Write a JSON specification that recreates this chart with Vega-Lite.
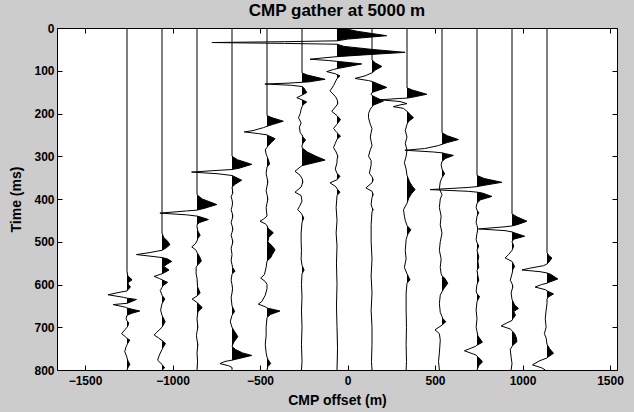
{
"$schema": "https://vega.github.io/schema/vega-lite/v6.json",
"width": 560, "height": 342,
"autosize": "none",
"padding": {"left": 57, "top": 28, "right": 17, "bottom": 42},
"background": "#cccccc",
"view": {"fill": "white", "stroke": "black", "strokeWidth": 1},
"title": {"text": "CMP gather at 5000 m", "font": "Liberation Sans", "fontSize": 17, "fontWeight": "bold", "color": "black", "anchor": "middle", "dy": 2},
"config": {
  "font": "Liberation Sans",
  "axis": {"zindex": 1, "domain": false, "ticks": false, "tickSize": 0, "grid": true, "gridColor": "black", "gridWidth": 1, "gridOpacity": 1, "gridCap": "butt", "labelFont": "Liberation Sans", "labelFontSize": 12, "labelFontWeight": "bold", "labelColor": "black", "labelFlush": false, "labelOverlap": false, "titleFont": "Liberation Sans", "titleFontSize": 14, "titleFontWeight": "bold", "titleColor": "black", "format": "d"}
},
"data": {"name": "w"},
"datasets": {"w": [
{"tr":-1260,"t":0,"x":-1260},{"tr":-1260,"t":570,"x":-1260},{"tr":-1260,"t":580,"x":-1255},{"tr":-1260,"t":589,"x":-1231},{"tr":-1260,"t":596,"x":-1255},{"tr":-1260,"t":601,"x":-1250},{"tr":-1260,"t":606,"x":-1240},{"tr":-1260,"t":612,"x":-1255},{"tr":-1260,"t":615,"x":-1260},{"tr":-1260,"t":618,"x":-1300},{"tr":-1260,"t":624,"x":-1368},{"tr":-1260,"t":630,"x":-1280},{"tr":-1260,"t":632,"x":-1260},{"tr":-1260,"t":635,"x":-1206},{"tr":-1260,"t":641,"x":-1240},{"tr":-1260,"t":644,"x":-1260},{"tr":-1260,"t":647,"x":-1339},{"tr":-1260,"t":653,"x":-1270},{"tr":-1260,"t":655,"x":-1260},{"tr":-1260,"t":658,"x":-1230},{"tr":-1260,"t":662,"x":-1187},{"tr":-1260,"t":667,"x":-1230},{"tr":-1260,"t":672,"x":-1260},{"tr":-1260,"t":680,"x":-1265},{"tr":-1260,"t":685,"x":-1260},{"tr":-1260,"t":690,"x":-1250},{"tr":-1260,"t":697,"x":-1255},{"tr":-1260,"t":700,"x":-1260},{"tr":-1260,"t":705,"x":-1270},{"tr":-1260,"t":715,"x":-1291},{"tr":-1260,"t":722,"x":-1270},{"tr":-1260,"t":726,"x":-1260},{"tr":-1260,"t":730,"x":-1244},{"tr":-1260,"t":737,"x":-1255},{"tr":-1260,"t":741,"x":-1260},{"tr":-1260,"t":745,"x":-1265},{"tr":-1260,"t":757,"x":-1273},{"tr":-1260,"t":767,"x":-1263},{"tr":-1260,"t":772,"x":-1260},{"tr":-1260,"t":778,"x":-1255},{"tr":-1260,"t":787,"x":-1244},{"tr":-1260,"t":795,"x":-1255},{"tr":-1260,"t":800,"x":-1260},
{"tr":-1060,"t":0,"x":-1060},{"tr":-1060,"t":480,"x":-1060},{"tr":-1060,"t":490,"x":-1050},{"tr":-1060,"t":500,"x":-1025},{"tr":-1060,"t":507,"x":-1015},{"tr":-1060,"t":514,"x":-1035},{"tr":-1060,"t":520,"x":-1060},{"tr":-1060,"t":526,"x":-1140},{"tr":-1060,"t":530,"x":-1206},{"tr":-1060,"t":535,"x":-1100},{"tr":-1060,"t":537,"x":-1060},{"tr":-1060,"t":540,"x":-1030},{"tr":-1060,"t":546,"x":-1005},{"tr":-1060,"t":552,"x":-1030},{"tr":-1060,"t":558,"x":-1050},{"tr":-1060,"t":566,"x":-1020},{"tr":-1060,"t":572,"x":-1045},{"tr":-1060,"t":575,"x":-1060},{"tr":-1060,"t":581,"x":-1105},{"tr":-1060,"t":586,"x":-1075},{"tr":-1060,"t":589,"x":-1060},{"tr":-1060,"t":595,"x":-1028},{"tr":-1060,"t":603,"x":-1055},{"tr":-1060,"t":607,"x":-1060},{"tr":-1060,"t":614,"x":-1070},{"tr":-1060,"t":625,"x":-1060},{"tr":-1060,"t":634,"x":-1044},{"tr":-1060,"t":645,"x":-1060},{"tr":-1060,"t":660,"x":-1068},{"tr":-1060,"t":672,"x":-1060},{"tr":-1060,"t":687,"x":-1042},{"tr":-1060,"t":700,"x":-1060},{"tr":-1060,"t":712,"x":-1090},{"tr":-1060,"t":718,"x":-1105},{"tr":-1060,"t":725,"x":-1080},{"tr":-1060,"t":731,"x":-1060},{"tr":-1060,"t":738,"x":-1040},{"tr":-1060,"t":748,"x":-1055},{"tr":-1060,"t":752,"x":-1060},{"tr":-1060,"t":765,"x":-1075},{"tr":-1060,"t":777,"x":-1085},{"tr":-1060,"t":787,"x":-1060},{"tr":-1060,"t":795,"x":-1045},{"tr":-1060,"t":800,"x":-1060},
{"tr":-860,"t":0,"x":-860},{"tr":-860,"t":390,"x":-860},{"tr":-860,"t":400,"x":-830},{"tr":-860,"t":413,"x":-747},{"tr":-860,"t":422,"x":-820},{"tr":-860,"t":426,"x":-860},{"tr":-860,"t":428,"x":-920},{"tr":-860,"t":433,"x":-1072},{"tr":-860,"t":437,"x":-920},{"tr":-860,"t":440,"x":-860},{"tr":-860,"t":442,"x":-840},{"tr":-860,"t":448,"x":-795},{"tr":-860,"t":455,"x":-845},{"tr":-860,"t":460,"x":-860},{"tr":-860,"t":465,"x":-860},{"tr":-860,"t":475,"x":-855},{"tr":-860,"t":485,"x":-842},{"tr":-860,"t":492,"x":-855},{"tr":-860,"t":498,"x":-860},{"tr":-860,"t":505,"x":-870},{"tr":-860,"t":512,"x":-890},{"tr":-860,"t":520,"x":-865},{"tr":-860,"t":525,"x":-860},{"tr":-860,"t":535,"x":-845},{"tr":-860,"t":545,"x":-835},{"tr":-860,"t":552,"x":-850},{"tr":-860,"t":556,"x":-860},{"tr":-860,"t":560,"x":-865},{"tr":-860,"t":575,"x":-865},{"tr":-860,"t":585,"x":-860},{"tr":-860,"t":605,"x":-857},{"tr":-860,"t":620,"x":-842},{"tr":-860,"t":627,"x":-860},{"tr":-860,"t":634,"x":-888},{"tr":-860,"t":642,"x":-860},{"tr":-860,"t":654,"x":-830},{"tr":-860,"t":664,"x":-855},{"tr":-860,"t":680,"x":-860},{"tr":-860,"t":700,"x":-855},{"tr":-860,"t":710,"x":-860},{"tr":-860,"t":720,"x":-863},{"tr":-860,"t":730,"x":-860},{"tr":-860,"t":740,"x":-855},{"tr":-860,"t":760,"x":-860},{"tr":-860,"t":780,"x":-857},{"tr":-860,"t":800,"x":-860},
{"tr":-660,"t":0,"x":-660},{"tr":-660,"t":300,"x":-660},{"tr":-660,"t":308,"x":-630},{"tr":-660,"t":319,"x":-547},{"tr":-660,"t":328,"x":-620},{"tr":-660,"t":331,"x":-660},{"tr":-660,"t":333,"x":-740},{"tr":-660,"t":337,"x":-891},{"tr":-660,"t":341,"x":-740},{"tr":-660,"t":345,"x":-660},{"tr":-660,"t":356,"x":-605},{"tr":-660,"t":365,"x":-640},{"tr":-660,"t":372,"x":-660},{"tr":-660,"t":385,"x":-655},{"tr":-660,"t":390,"x":-660},{"tr":-660,"t":395,"x":-665},{"tr":-660,"t":402,"x":-660},{"tr":-660,"t":410,"x":-657},{"tr":-660,"t":418,"x":-660},{"tr":-660,"t":425,"x":-665},{"tr":-660,"t":432,"x":-660},{"tr":-660,"t":440,"x":-655},{"tr":-660,"t":448,"x":-660},{"tr":-660,"t":455,"x":-665},{"tr":-660,"t":462,"x":-660},{"tr":-660,"t":470,"x":-655},{"tr":-660,"t":478,"x":-660},{"tr":-660,"t":485,"x":-665},{"tr":-660,"t":492,"x":-660},{"tr":-660,"t":500,"x":-655},{"tr":-660,"t":508,"x":-660},{"tr":-660,"t":515,"x":-665},{"tr":-660,"t":530,"x":-660},{"tr":-660,"t":545,"x":-665},{"tr":-660,"t":553,"x":-660},{"tr":-660,"t":560,"x":-657},{"tr":-660,"t":569,"x":-643},{"tr":-660,"t":576,"x":-660},{"tr":-660,"t":590,"x":-665},{"tr":-660,"t":600,"x":-660},{"tr":-660,"t":610,"x":-657},{"tr":-660,"t":620,"x":-660},{"tr":-660,"t":630,"x":-665},{"tr":-660,"t":650,"x":-660},{"tr":-660,"t":663,"x":-645},{"tr":-660,"t":672,"x":-660},{"tr":-660,"t":687,"x":-670},{"tr":-660,"t":700,"x":-660},{"tr":-660,"t":710,"x":-645},{"tr":-660,"t":722,"x":-627},{"tr":-660,"t":735,"x":-650},{"tr":-660,"t":745,"x":-660},{"tr":-660,"t":752,"x":-640},{"tr":-660,"t":760,"x":-600},{"tr":-660,"t":766,"x":-547},{"tr":-660,"t":774,"x":-630},{"tr":-660,"t":777,"x":-660},{"tr":-660,"t":780,"x":-700},{"tr":-660,"t":785,"x":-729},{"tr":-660,"t":790,"x":-680},{"tr":-660,"t":794,"x":-660},{"tr":-660,"t":800,"x":-660},
{"tr":-460,"t":0,"x":-460},{"tr":-460,"t":205,"x":-460},{"tr":-460,"t":210,"x":-430},{"tr":-460,"t":218,"x":-367},{"tr":-460,"t":226,"x":-430},{"tr":-460,"t":230,"x":-460},{"tr":-460,"t":233,"x":-480},{"tr":-460,"t":240,"x":-540},{"tr":-460,"t":243,"x":-590},{"tr":-460,"t":247,"x":-510},{"tr":-460,"t":250,"x":-460},{"tr":-460,"t":252,"x":-450},{"tr":-460,"t":259,"x":-414},{"tr":-460,"t":268,"x":-435},{"tr":-460,"t":276,"x":-455},{"tr":-460,"t":279,"x":-460},{"tr":-460,"t":285,"x":-470},{"tr":-460,"t":295,"x":-465},{"tr":-460,"t":300,"x":-460},{"tr":-460,"t":305,"x":-455},{"tr":-460,"t":318,"x":-445},{"tr":-460,"t":325,"x":-460},{"tr":-460,"t":340,"x":-465},{"tr":-460,"t":350,"x":-460},{"tr":-460,"t":360,"x":-455},{"tr":-460,"t":370,"x":-460},{"tr":-460,"t":380,"x":-465},{"tr":-460,"t":390,"x":-460},{"tr":-460,"t":400,"x":-455},{"tr":-460,"t":410,"x":-460},{"tr":-460,"t":420,"x":-465},{"tr":-460,"t":440,"x":-460},{"tr":-460,"t":447,"x":-480},{"tr":-460,"t":452,"x":-500},{"tr":-460,"t":458,"x":-470},{"tr":-460,"t":462,"x":-460},{"tr":-460,"t":468,"x":-455},{"tr":-460,"t":479,"x":-424},{"tr":-460,"t":490,"x":-450},{"tr":-460,"t":500,"x":-455},{"tr":-460,"t":510,"x":-430},{"tr":-460,"t":519,"x":-414},{"tr":-460,"t":530,"x":-430},{"tr":-460,"t":538,"x":-440},{"tr":-460,"t":545,"x":-460},{"tr":-460,"t":560,"x":-465},{"tr":-460,"t":577,"x":-475},{"tr":-460,"t":585,"x":-496},{"tr":-460,"t":593,"x":-470},{"tr":-460,"t":600,"x":-460},{"tr":-460,"t":610,"x":-460},{"tr":-460,"t":625,"x":-470},{"tr":-460,"t":640,"x":-490},{"tr":-460,"t":646,"x":-510},{"tr":-460,"t":652,"x":-470},{"tr":-460,"t":655,"x":-460},{"tr":-460,"t":662,"x":-386},{"tr":-460,"t":670,"x":-440},{"tr":-460,"t":677,"x":-460},{"tr":-460,"t":700,"x":-465},{"tr":-460,"t":720,"x":-465},{"tr":-460,"t":740,"x":-470},{"tr":-460,"t":760,"x":-465},{"tr":-460,"t":770,"x":-460},{"tr":-460,"t":775,"x":-455},{"tr":-460,"t":785,"x":-439},{"tr":-460,"t":792,"x":-455},{"tr":-460,"t":800,"x":-460},
{"tr":-260,"t":0,"x":-260},{"tr":-260,"t":105,"x":-260},{"tr":-260,"t":110,"x":-230},{"tr":-260,"t":120,"x":-128},{"tr":-260,"t":126,"x":-220},{"tr":-260,"t":127,"x":-260},{"tr":-260,"t":129,"x":-340},{"tr":-260,"t":131,"x":-472},{"tr":-260,"t":134,"x":-320},{"tr":-260,"t":137,"x":-260},{"tr":-260,"t":140,"x":-250},{"tr":-260,"t":146,"x":-240},{"tr":-260,"t":151,"x":-233},{"tr":-260,"t":157,"x":-260},{"tr":-260,"t":163,"x":-290},{"tr":-260,"t":168,"x":-260},{"tr":-260,"t":173,"x":-233},{"tr":-260,"t":180,"x":-255},{"tr":-260,"t":184,"x":-260},{"tr":-260,"t":190,"x":-265},{"tr":-260,"t":200,"x":-270},{"tr":-260,"t":210,"x":-280},{"tr":-260,"t":222,"x":-265},{"tr":-260,"t":232,"x":-275},{"tr":-260,"t":245,"x":-270},{"tr":-260,"t":250,"x":-260},{"tr":-260,"t":255,"x":-255},{"tr":-260,"t":262,"x":-240},{"tr":-260,"t":270,"x":-255},{"tr":-260,"t":275,"x":-260},{"tr":-260,"t":280,"x":-260},{"tr":-260,"t":290,"x":-230},{"tr":-260,"t":300,"x":-180},{"tr":-260,"t":309,"x":-128},{"tr":-260,"t":318,"x":-220},{"tr":-260,"t":322,"x":-260},{"tr":-260,"t":325,"x":-270},{"tr":-260,"t":335,"x":-300},{"tr":-260,"t":345,"x":-270},{"tr":-260,"t":352,"x":-260},{"tr":-260,"t":360,"x":-255},{"tr":-260,"t":366,"x":-260},{"tr":-260,"t":372,"x":-265},{"tr":-260,"t":384,"x":-300},{"tr":-260,"t":392,"x":-265},{"tr":-260,"t":405,"x":-260},{"tr":-260,"t":418,"x":-275},{"tr":-260,"t":425,"x":-285},{"tr":-260,"t":433,"x":-265},{"tr":-260,"t":437,"x":-260},{"tr":-260,"t":444,"x":-250},{"tr":-260,"t":455,"x":-260},{"tr":-260,"t":480,"x":-265},{"tr":-260,"t":500,"x":-265},{"tr":-260,"t":520,"x":-263},{"tr":-260,"t":540,"x":-265},{"tr":-260,"t":555,"x":-260},{"tr":-260,"t":566,"x":-248},{"tr":-260,"t":575,"x":-260},{"tr":-260,"t":600,"x":-263},{"tr":-260,"t":630,"x":-260},{"tr":-260,"t":660,"x":-263},{"tr":-260,"t":700,"x":-260},{"tr":-260,"t":740,"x":-263},{"tr":-260,"t":780,"x":-260},{"tr":-260,"t":800,"x":-263},
{"tr":-60,"t":0,"x":-60},{"tr":-60,"t":1,"x":-20},{"tr":-60,"t":8,"x":60},{"tr":-60,"t":18,"x":224},{"tr":-60,"t":26,"x":0},{"tr":-60,"t":30,"x":-60},{"tr":-60,"t":32,"x":-360},{"tr":-60,"t":34,"x":-775},{"tr":-60,"t":36,"x":-360},{"tr":-60,"t":38,"x":-60},{"tr":-60,"t":43,"x":-20},{"tr":-60,"t":50,"x":140},{"tr":-60,"t":57,"x":329},{"tr":-60,"t":63,"x":90},{"tr":-60,"t":67,"x":-60},{"tr":-60,"t":70,"x":-140},{"tr":-60,"t":73,"x":-214},{"tr":-60,"t":76,"x":-110},{"tr":-60,"t":78,"x":-60},{"tr":-60,"t":84,"x":81},{"tr":-60,"t":92,"x":-20},{"tr":-60,"t":95,"x":-60},{"tr":-60,"t":97,"x":-80},{"tr":-60,"t":102,"x":-119},{"tr":-60,"t":107,"x":-70},{"tr":-60,"t":109,"x":-60},{"tr":-60,"t":112,"x":-43},{"tr":-60,"t":118,"x":-60},{"tr":-60,"t":135,"x":-80},{"tr":-60,"t":147,"x":-100},{"tr":-60,"t":160,"x":-70},{"tr":-60,"t":167,"x":-60},{"tr":-60,"t":175,"x":-55},{"tr":-60,"t":180,"x":-60},{"tr":-60,"t":185,"x":-70},{"tr":-60,"t":195,"x":-90},{"tr":-60,"t":205,"x":-60},{"tr":-60,"t":214,"x":-40},{"tr":-60,"t":225,"x":-60},{"tr":-60,"t":235,"x":-80},{"tr":-60,"t":245,"x":-60},{"tr":-60,"t":253,"x":-40},{"tr":-60,"t":260,"x":-60},{"tr":-60,"t":270,"x":-70},{"tr":-60,"t":280,"x":-80},{"tr":-60,"t":290,"x":-65},{"tr":-60,"t":295,"x":-60},{"tr":-60,"t":300,"x":-55},{"tr":-60,"t":308,"x":-60},{"tr":-60,"t":315,"x":-60},{"tr":-60,"t":330,"x":-70},{"tr":-60,"t":340,"x":-60},{"tr":-60,"t":347,"x":-43},{"tr":-60,"t":355,"x":-60},{"tr":-60,"t":362,"x":-100},{"tr":-60,"t":372,"x":-65},{"tr":-60,"t":376,"x":-60},{"tr":-60,"t":384,"x":-43},{"tr":-60,"t":392,"x":-60},{"tr":-60,"t":420,"x":-65},{"tr":-60,"t":450,"x":-60},{"tr":-60,"t":480,"x":-65},{"tr":-60,"t":510,"x":-60},{"tr":-60,"t":550,"x":-63},{"tr":-60,"t":600,"x":-60},{"tr":-60,"t":650,"x":-63},{"tr":-60,"t":700,"x":-60},{"tr":-60,"t":750,"x":-57},{"tr":-60,"t":800,"x":-60},
{"tr":140,"t":0,"x":140},{"tr":140,"t":75,"x":140},{"tr":140,"t":82,"x":160},{"tr":140,"t":90,"x":196},{"tr":140,"t":98,"x":160},{"tr":140,"t":105,"x":140},{"tr":140,"t":112,"x":100},{"tr":140,"t":118,"x":43},{"tr":140,"t":123,"x":120},{"tr":140,"t":125,"x":140},{"tr":140,"t":130,"x":170},{"tr":140,"t":139,"x":224},{"tr":140,"t":148,"x":160},{"tr":140,"t":151,"x":140},{"tr":140,"t":155,"x":135},{"tr":140,"t":158,"x":140},{"tr":140,"t":162,"x":160},{"tr":140,"t":171,"x":205},{"tr":140,"t":180,"x":150},{"tr":140,"t":184,"x":140},{"tr":140,"t":190,"x":130},{"tr":140,"t":200,"x":120},{"tr":140,"t":210,"x":120},{"tr":140,"t":225,"x":130},{"tr":140,"t":235,"x":140},{"tr":140,"t":245,"x":135},{"tr":140,"t":255,"x":130},{"tr":140,"t":265,"x":135},{"tr":140,"t":275,"x":140},{"tr":140,"t":285,"x":130},{"tr":140,"t":300,"x":120},{"tr":140,"t":310,"x":135},{"tr":140,"t":320,"x":135},{"tr":140,"t":340,"x":125},{"tr":140,"t":348,"x":140},{"tr":140,"t":355,"x":147},{"tr":140,"t":362,"x":140},{"tr":140,"t":374,"x":105},{"tr":140,"t":382,"x":140},{"tr":140,"t":390,"x":147},{"tr":140,"t":396,"x":140},{"tr":140,"t":412,"x":135},{"tr":140,"t":420,"x":140},{"tr":140,"t":425,"x":147},{"tr":140,"t":430,"x":140},{"tr":140,"t":460,"x":135},{"tr":140,"t":500,"x":135},{"tr":140,"t":540,"x":140},{"tr":140,"t":580,"x":135},{"tr":140,"t":620,"x":140},{"tr":140,"t":660,"x":135},{"tr":140,"t":700,"x":140},{"tr":140,"t":740,"x":140},{"tr":140,"t":780,"x":137},{"tr":140,"t":800,"x":140},
{"tr":340,"t":0,"x":340},{"tr":340,"t":140,"x":340},{"tr":340,"t":145,"x":370},{"tr":340,"t":155,"x":453},{"tr":340,"t":162,"x":370},{"tr":340,"t":164,"x":340},{"tr":340,"t":165,"x":290},{"tr":340,"t":168,"x":186},{"tr":340,"t":172,"x":300},{"tr":340,"t":177,"x":340},{"tr":340,"t":180,"x":300},{"tr":340,"t":184,"x":262},{"tr":340,"t":188,"x":320},{"tr":340,"t":195,"x":340},{"tr":340,"t":203,"x":360},{"tr":340,"t":210,"x":377},{"tr":340,"t":218,"x":350},{"tr":340,"t":225,"x":340},{"tr":340,"t":240,"x":330},{"tr":340,"t":255,"x":340},{"tr":340,"t":270,"x":330},{"tr":340,"t":285,"x":340},{"tr":340,"t":300,"x":335},{"tr":340,"t":315,"x":325},{"tr":340,"t":330,"x":335},{"tr":340,"t":345,"x":340},{"tr":340,"t":360,"x":355},{"tr":340,"t":370,"x":370},{"tr":340,"t":378,"x":386},{"tr":340,"t":388,"x":365},{"tr":340,"t":398,"x":350},{"tr":340,"t":410,"x":340},{"tr":340,"t":425,"x":320},{"tr":340,"t":440,"x":325},{"tr":340,"t":450,"x":330},{"tr":340,"t":462,"x":340},{"tr":340,"t":472,"x":362},{"tr":340,"t":482,"x":345},{"tr":340,"t":488,"x":340},{"tr":340,"t":495,"x":335},{"tr":340,"t":520,"x":330},{"tr":340,"t":540,"x":335},{"tr":340,"t":560,"x":325},{"tr":340,"t":575,"x":340},{"tr":340,"t":589,"x":357},{"tr":340,"t":597,"x":340},{"tr":340,"t":620,"x":335},{"tr":340,"t":660,"x":335},{"tr":340,"t":700,"x":337},{"tr":340,"t":740,"x":335},{"tr":340,"t":780,"x":337},{"tr":340,"t":800,"x":335},
{"tr":540,"t":0,"x":540},{"tr":540,"t":245,"x":540},{"tr":540,"t":252,"x":570},{"tr":540,"t":261,"x":634},{"tr":540,"t":268,"x":570},{"tr":540,"t":272,"x":540},{"tr":540,"t":275,"x":520},{"tr":540,"t":282,"x":440},{"tr":540,"t":286,"x":328},{"tr":540,"t":290,"x":490},{"tr":540,"t":292,"x":540},{"tr":540,"t":294,"x":560},{"tr":540,"t":298,"x":605},{"tr":540,"t":305,"x":560},{"tr":540,"t":312,"x":540},{"tr":540,"t":320,"x":535},{"tr":540,"t":330,"x":540},{"tr":540,"t":341,"x":555},{"tr":540,"t":350,"x":540},{"tr":540,"t":360,"x":530},{"tr":540,"t":376,"x":525},{"tr":540,"t":390,"x":540},{"tr":540,"t":400,"x":530},{"tr":540,"t":420,"x":525},{"tr":540,"t":440,"x":535},{"tr":540,"t":460,"x":530},{"tr":540,"t":480,"x":540},{"tr":540,"t":500,"x":530},{"tr":540,"t":520,"x":525},{"tr":540,"t":540,"x":535},{"tr":540,"t":560,"x":530},{"tr":540,"t":575,"x":535},{"tr":540,"t":580,"x":540},{"tr":540,"t":585,"x":555},{"tr":540,"t":597,"x":573},{"tr":540,"t":610,"x":550},{"tr":540,"t":617,"x":540},{"tr":540,"t":625,"x":530},{"tr":540,"t":645,"x":525},{"tr":540,"t":665,"x":530},{"tr":540,"t":675,"x":540},{"tr":540,"t":680,"x":545},{"tr":540,"t":687,"x":562},{"tr":540,"t":695,"x":540},{"tr":540,"t":706,"x":500},{"tr":540,"t":715,"x":525},{"tr":540,"t":730,"x":530},{"tr":540,"t":760,"x":525},{"tr":540,"t":780,"x":520},{"tr":540,"t":800,"x":525},
{"tr":740,"t":0,"x":740},{"tr":740,"t":345,"x":740},{"tr":740,"t":352,"x":780},{"tr":740,"t":361,"x":882},{"tr":740,"t":368,"x":780},{"tr":740,"t":371,"x":740},{"tr":740,"t":373,"x":690},{"tr":740,"t":378,"x":472},{"tr":740,"t":382,"x":690},{"tr":740,"t":384,"x":740},{"tr":740,"t":386,"x":770},{"tr":740,"t":394,"x":825},{"tr":740,"t":402,"x":760},{"tr":740,"t":410,"x":740},{"tr":740,"t":420,"x":735},{"tr":740,"t":426,"x":740},{"tr":740,"t":432,"x":750},{"tr":740,"t":440,"x":740},{"tr":740,"t":455,"x":735},{"tr":740,"t":462,"x":740},{"tr":740,"t":470,"x":745},{"tr":740,"t":480,"x":740},{"tr":740,"t":495,"x":735},{"tr":740,"t":502,"x":740},{"tr":740,"t":510,"x":750},{"tr":740,"t":520,"x":740},{"tr":740,"t":535,"x":750},{"tr":740,"t":545,"x":745},{"tr":740,"t":560,"x":750},{"tr":740,"t":567,"x":740},{"tr":740,"t":580,"x":745},{"tr":740,"t":590,"x":750},{"tr":740,"t":600,"x":740},{"tr":740,"t":615,"x":735},{"tr":740,"t":622,"x":740},{"tr":740,"t":628,"x":755},{"tr":740,"t":640,"x":740},{"tr":740,"t":660,"x":735},{"tr":740,"t":680,"x":740},{"tr":740,"t":700,"x":735},{"tr":740,"t":710,"x":740},{"tr":740,"t":720,"x":745},{"tr":740,"t":735,"x":771},{"tr":740,"t":742,"x":740},{"tr":740,"t":745,"x":730},{"tr":740,"t":755,"x":668},{"tr":740,"t":765,"x":735},{"tr":740,"t":768,"x":740},{"tr":740,"t":775,"x":760},{"tr":740,"t":781,"x":771},{"tr":740,"t":790,"x":750},{"tr":740,"t":800,"x":740},
{"tr":940,"t":0,"x":940},{"tr":940,"t":435,"x":940},{"tr":940,"t":442,"x":970},{"tr":940,"t":452,"x":1025},{"tr":940,"t":460,"x":970},{"tr":940,"t":463,"x":940},{"tr":940,"t":465,"x":900},{"tr":940,"t":470,"x":749},{"tr":940,"t":474,"x":900},{"tr":940,"t":477,"x":940},{"tr":940,"t":480,"x":960},{"tr":940,"t":487,"x":1012},{"tr":940,"t":494,"x":950},{"tr":940,"t":500,"x":940},{"tr":940,"t":510,"x":950},{"tr":940,"t":520,"x":940},{"tr":940,"t":530,"x":920},{"tr":940,"t":538,"x":901},{"tr":940,"t":546,"x":940},{"tr":940,"t":558,"x":955},{"tr":940,"t":565,"x":945},{"tr":940,"t":575,"x":940},{"tr":940,"t":590,"x":930},{"tr":940,"t":598,"x":940},{"tr":940,"t":605,"x":945},{"tr":940,"t":612,"x":940},{"tr":940,"t":620,"x":935},{"tr":940,"t":635,"x":940},{"tr":940,"t":648,"x":955},{"tr":940,"t":656,"x":977},{"tr":940,"t":663,"x":950},{"tr":940,"t":672,"x":960},{"tr":940,"t":680,"x":945},{"tr":940,"t":684,"x":940},{"tr":940,"t":690,"x":910},{"tr":940,"t":697,"x":878},{"tr":940,"t":704,"x":930},{"tr":940,"t":708,"x":940},{"tr":940,"t":715,"x":955},{"tr":940,"t":725,"x":965},{"tr":940,"t":734,"x":968},{"tr":940,"t":742,"x":945},{"tr":940,"t":745,"x":940},{"tr":940,"t":752,"x":930},{"tr":940,"t":770,"x":935},{"tr":940,"t":785,"x":940},{"tr":940,"t":800,"x":935},
{"tr":1140,"t":0,"x":1140},{"tr":1140,"t":525,"x":1140},{"tr":1140,"t":532,"x":1150},{"tr":1140,"t":538,"x":1168},{"tr":1140,"t":548,"x":1150},{"tr":1140,"t":552,"x":1140},{"tr":1140,"t":556,"x":1120},{"tr":1140,"t":562,"x":1040},{"tr":1140,"t":566,"x":997},{"tr":1140,"t":570,"x":1100},{"tr":1140,"t":573,"x":1140},{"tr":1140,"t":576,"x":1160},{"tr":1140,"t":587,"x":1202},{"tr":1140,"t":595,"x":1150},{"tr":1140,"t":597,"x":1140},{"tr":1140,"t":600,"x":1110},{"tr":1140,"t":606,"x":1072},{"tr":1140,"t":612,"x":1130},{"tr":1140,"t":615,"x":1140},{"tr":1140,"t":622,"x":1177},{"tr":1140,"t":630,"x":1145},{"tr":1140,"t":635,"x":1140},{"tr":1140,"t":645,"x":1140},{"tr":1140,"t":660,"x":1135},{"tr":1140,"t":680,"x":1130},{"tr":1140,"t":700,"x":1135},{"tr":1140,"t":715,"x":1125},{"tr":1140,"t":725,"x":1135},{"tr":1140,"t":740,"x":1140},{"tr":1140,"t":750,"x":1155},{"tr":1140,"t":761,"x":1177},{"tr":1140,"t":770,"x":1145},{"tr":1140,"t":772,"x":1140},{"tr":1140,"t":778,"x":1100},{"tr":1140,"t":788,"x":1057},{"tr":1140,"t":795,"x":1110},{"tr":1140,"t":800,"x":1130}
]},
"layer": [
  {"transform": [{"filter": "datum.x >= datum.tr"}],
   "mark": {"type": "line", "filled": true, "color": "black", "fill": "black", "clip": true},
   "encoding": {
     "y": {"field": "t", "type": "quantitative", "scale": {"domain": [0, 800], "reverse": true, "nice": false, "zero": false},
           "axis": {"orient": "left", "zindex": 1, "title": "Time (ms)", "values": [0,100,200,300,400,500,600,700,800], "gridDash": [5, 550, 5], "labelPadding": 3, "titleX": -37, "titleY": 171, "titleAngle": 270, "titleBaseline": "alphabetic", "titleAlign": "center"}},
     "x": {"field": "x", "type": "quantitative", "scale": {"domain": [-1660, 1540], "nice": false, "zero": false},
           "axis": {"orient": "bottom", "zindex": 1, "title": "CMP offset (m)", "values": [-1500,-1000,-500,0,500,1000,1500], "gridDash": [5, 332, 5], "labelPadding": 5, "titleX": 280, "titleY": 34, "titleBaseline": "alphabetic", "titleAlign": "center"}},
     "detail": {"field": "tr", "type": "nominal"},
     "order": {"field": "t", "type": "quantitative"}
   }},
  {"mark": {"type": "line", "color": "black", "strokeWidth": 1, "clip": true},
   "encoding": {
     "y": {"field": "t", "type": "quantitative", "scale": {"domain": [0, 800], "reverse": true, "nice": false, "zero": false},
           "axis": {"orient": "left", "zindex": 1, "title": "Time (ms)", "values": [0,100,200,300,400,500,600,700,800], "gridDash": [5, 550, 5], "labelPadding": 3, "titleX": -37, "titleY": 171, "titleAngle": 270, "titleBaseline": "alphabetic", "titleAlign": "center"}},
     "x": {"field": "x", "type": "quantitative", "scale": {"domain": [-1660, 1540], "nice": false, "zero": false},
           "axis": {"orient": "bottom", "zindex": 1, "title": "CMP offset (m)", "values": [-1500,-1000,-500,0,500,1000,1500], "gridDash": [5, 332, 5], "labelPadding": 5, "titleX": 280, "titleY": 34, "titleBaseline": "alphabetic", "titleAlign": "center"}},
     "detail": {"field": "tr", "type": "nominal"},
     "order": {"field": "t", "type": "quantitative"}
   }}
]
}
